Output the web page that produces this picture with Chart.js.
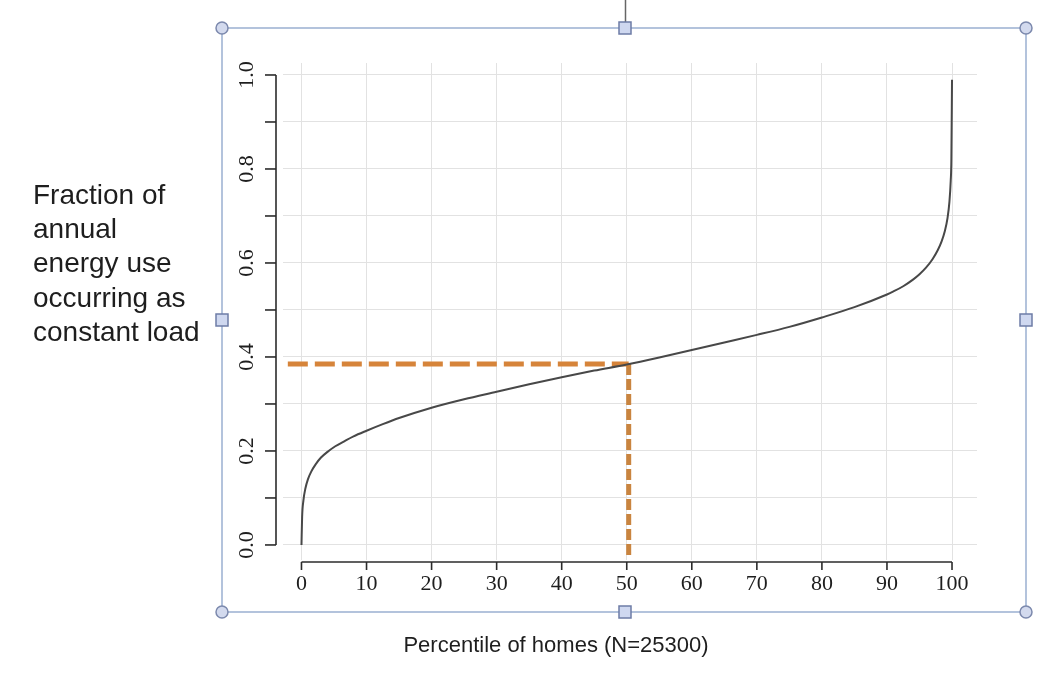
<!DOCTYPE html>
<html>
<head>
<meta charset="utf-8">
<title>Constant load fraction by percentile</title>
<script src="https://cdn.jsdelivr.net/npm/chart.js@4.4.1/dist/chart.umd.min.js"></script>
<style>
  html, body { margin: 0; padding: 0; background: #ffffff; }
  #wrap { position: relative; width: 1051px; height: 695px; }
</style>
</head>
<body>
<div id="wrap"><canvas id="chart"></canvas></div>
<script>
// percentile of homes vs fraction of annual use that is constant load
const percentiles = [0, 0.1, 0.3, 0.6, 1.0, 1.5, 2.2, 3.0, 4.0, 5.2, 6.5, 8, 10, 12.5, 15, 20, 25, 30, 35, 40, 45, 50,
  55, 60, 65, 70, 75, 80, 85, 90, 91, 92.5, 94, 95, 96, 97, 97.8, 98.4, 98.9, 99.3, 99.6, 99.8, 99.9, 100];
const fractions = [0.0, 0.06, 0.095, 0.12, 0.14, 0.156, 0.172, 0.186, 0.198, 0.210, 0.220, 0.231, 0.243, 0.257, 0.270, 0.292, 0.310, 0.326, 0.342, 0.357, 0.371, 0.384,
  0.399, 0.415, 0.431, 0.447, 0.464, 0.484, 0.506, 0.533, 0.5395, 0.5505, 0.5645, 0.576, 0.590, 0.608, 0.627, 0.646, 0.668, 0.695, 0.730, 0.775, 0.820, 0.990];

// median guide lines (orange dashes)
const medianLineX = [-2.1, 50.3];
const medianLineY = [0.385, 0.385];
const dropLineX = [50.3, 50.3];
const dropLineY = [0.385, -0.025];

// ticks
const xTicks = [0, 10, 20, 30, 40, 50, 60, 70, 80, 90, 100];
const yTicks = [0, 0.1, 0.2, 0.3, 0.4, 0.5, 0.6, 0.7, 0.8, 0.9, 1.0];
const yLabels = ['0.0', '0.2', '0.4', '0.6', '0.8', '1.0'];

const yTitleLines = ['Fraction of', 'annual', 'energy use', 'occurring as', 'constant load'];
const xTitle = 'Percentile of homes (N=25300)';

const toPoints = (xs, ys) => xs.map((x, i) => ({ x: x, y: ys[i] }));

// R style detached axes + the selection frame around the plot
const decorations = {
  id: 'decorations',
  afterDraw(chart) {
    const ctx = chart.ctx;
    const xs = chart.scales.x;
    const ys = chart.scales.y;
    const area = chart.chartArea;
    ctx.save();

    // selection frame
    ctx.strokeStyle = '#b3c3dc';
    ctx.lineWidth = 2;
    ctx.strokeRect(222, 28, 804, 584);
    ctx.strokeStyle = '#666';
    ctx.lineWidth = 1.5;
    ctx.beginPath();
    ctx.moveTo(625.5, 0);
    ctx.lineTo(625.5, 22);
    ctx.stroke();
    const circ = (x, y) => {
      ctx.beginPath();
      ctx.arc(x, y, 6, 0, Math.PI * 2);
      ctx.fillStyle = '#d3daee';
      ctx.fill();
      ctx.strokeStyle = '#7c89ad';
      ctx.lineWidth = 1.5;
      ctx.stroke();
    };
    const sq = (x, y) => {
      ctx.fillStyle = '#cfd8f0';
      ctx.fillRect(x - 6, y - 6, 12, 12);
      ctx.strokeStyle = '#6e7ca6';
      ctx.lineWidth = 1.5;
      ctx.strokeRect(x - 6, y - 6, 12, 12);
    };
    circ(222, 28); circ(1026, 28); circ(222, 612); circ(1026, 612);
    sq(625, 28); sq(625, 612); sq(222, 320); sq(1026, 320);

    // axes
    ctx.strokeStyle = '#2b2b2b';
    ctx.lineWidth = 1.6;
    ctx.fillStyle = '#1e1e1e';
    ctx.font = '22px "Liberation Serif", "DejaVu Serif", serif';

    const axY = area.bottom + 2;
    ctx.beginPath();
    ctx.moveTo(xs.getPixelForValue(0), axY);
    ctx.lineTo(xs.getPixelForValue(100), axY);
    ctx.stroke();
    ctx.textAlign = 'center';
    ctx.textBaseline = 'top';
    xTicks.forEach(v => {
      const px = xs.getPixelForValue(v);
      ctx.beginPath();
      ctx.moveTo(px, axY);
      ctx.lineTo(px, axY + 8);
      ctx.stroke();
      ctx.fillText(String(v), px, axY + 11);
    });

    const axX = area.left - 7;
    ctx.beginPath();
    ctx.moveTo(axX, ys.getPixelForValue(0));
    ctx.lineTo(axX, ys.getPixelForValue(1));
    ctx.stroke();
    yTicks.forEach(v => {
      const py = ys.getPixelForValue(v);
      ctx.beginPath();
      ctx.moveTo(axX, py);
      ctx.lineTo(axX - 11, py);
      ctx.stroke();
    });
    yLabels.forEach(lbl => {
      const py = ys.getPixelForValue(parseFloat(lbl));
      ctx.save();
      ctx.translate(axX - 29, py);
      ctx.rotate(-Math.PI / 2);
      ctx.textAlign = 'center';
      ctx.textBaseline = 'middle';
      ctx.fillText(lbl, 0, 0);
      ctx.restore();
    });

    // titles
    ctx.fillStyle = '#1e1e1e';
    ctx.font = '28px "Liberation Sans", Arial, sans-serif';
    ctx.textAlign = 'left';
    ctx.textBaseline = 'middle';
    yTitleLines.forEach((t, i) => ctx.fillText(t, 33, 196 + i * 34.3));
    ctx.font = '22px "Liberation Sans", Arial, sans-serif';
    ctx.textAlign = 'center';
    ctx.fillText(xTitle, 556, 646);
    ctx.restore();
  }
};

new Chart(document.getElementById('chart'), {
  type: 'line',
  data: {
    datasets: [
      {
        label: 'Constant load fraction',
        data: toPoints(percentiles, fractions),
        borderColor: '#484848',
        borderWidth: 2,
        pointRadius: 0,
        cubicInterpolationMode: 'monotone',
        order: 0
      },
      {
        label: 'Median',
        data: toPoints(medianLineX, medianLineY),
        borderColor: '#d6843a',
        borderWidth: 5,
        borderDash: [20, 7],
        pointRadius: 0,
        order: 1
      },
      {
        label: 'Median percentile',
        data: toPoints(dropLineX, dropLineY),
        borderColor: '#c9843f',
        borderWidth: 5,
        borderDash: [11, 4],
        pointRadius: 0,
        order: 2
      }
    ]
  },
  options: {
    responsive: true,
    maintainAspectRatio: false,
    animation: false,
    layout: { padding: { left: 283, right: 74, top: 63, bottom: 135 } },
    plugins: {
      legend: { display: false },
      tooltip: { enabled: false }
    },
    scales: {
      x: {
        type: 'linear',
        min: -2.84,
        max: 103.84,
        afterBuildTicks: (axis) => { axis.ticks = xTicks.map(v => ({ value: v })); },
        ticks: { display: false },
        border: { display: false },
        grid: { color: '#e2e2e2', lineWidth: 1, drawTicks: false }
      },
      y: {
        type: 'linear',
        min: -0.032,
        max: 1.0255,
        afterBuildTicks: (axis) => { axis.ticks = yTicks.map(v => ({ value: v })); },
        ticks: { display: false },
        border: { display: false },
        grid: { color: '#e2e2e2', lineWidth: 1, drawTicks: false }
      }
    }
  },
  plugins: [decorations]
});
</script>
</body>
</html>
